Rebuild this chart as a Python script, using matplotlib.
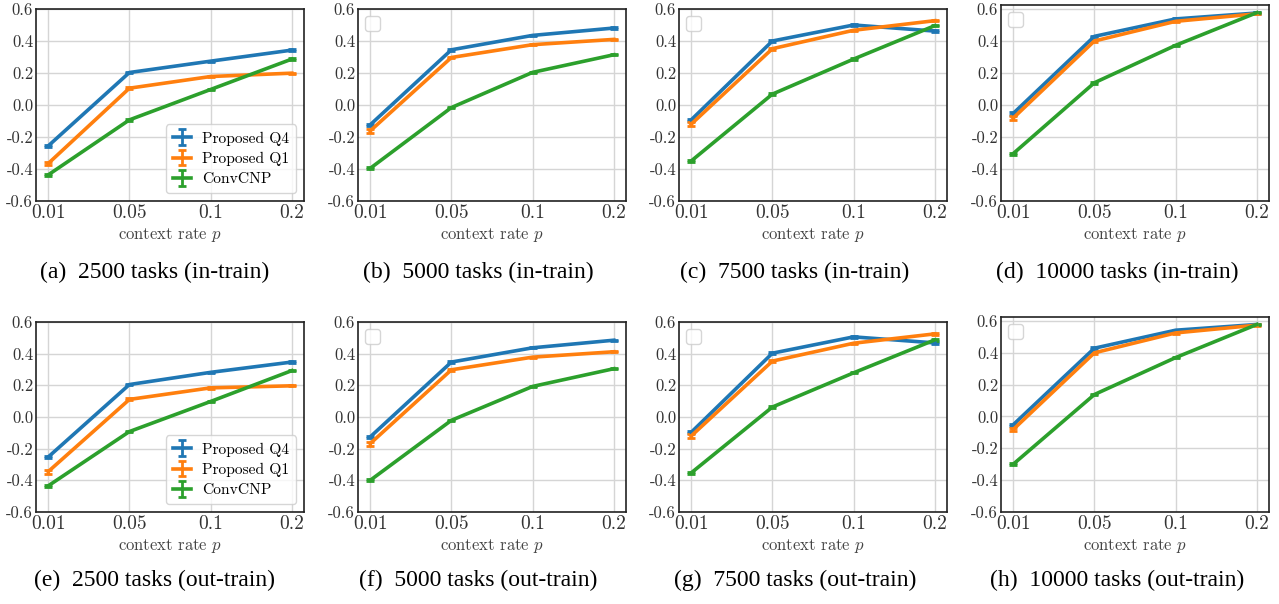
import matplotlib
matplotlib.use('Agg')
import matplotlib.pyplot as plt
from matplotlib.legend import Legend

plt.rcParams['font.family'] = 'cmr10'
plt.rcParams['mathtext.fontset'] = 'cm'
plt.rcParams['axes.unicode_minus'] = False
plt.rcParams['axes.formatter.use_mathtext'] = True

rates = ['0.01', '0.05', '0.1', '0.2']
yticks = [-0.6, -0.4, -0.2, 0.0, 0.2, 0.4, 0.6]
ytick_labels = ['-0.6', '-0.4', '-0.2', '0.0', '0.2', '0.4', '0.6']

# one list per panel, in-train row then out-train row
q4_in = [[-0.256, 0.203, 0.274, 0.343],
         [-0.124, 0.345, 0.435, 0.481],
         [-0.093, 0.400, 0.500, 0.462],
         [-0.053, 0.429, 0.538, 0.575]]
q1_in = [[-0.366, 0.105, 0.178, 0.199],
         [-0.162, 0.297, 0.377, 0.410],
         [-0.120, 0.352, 0.467, 0.527],
         [-0.082, 0.400, 0.523, 0.570]]
conv_in = [[-0.437, -0.093, 0.097, 0.287],
           [-0.396, -0.016, 0.204, 0.314],
           [-0.350, 0.068, 0.287, 0.496],
           [-0.304, 0.139, 0.373, 0.577]]

q4_out = [[-0.253, 0.205, 0.282, 0.347],
          [-0.126, 0.347, 0.437, 0.485],
          [-0.097, 0.403, 0.506, 0.468],
          [-0.052, 0.429, 0.542, 0.578]]
q1_out = [[-0.345, 0.111, 0.184, 0.197],
          [-0.168, 0.298, 0.378, 0.412],
          [-0.120, 0.353, 0.466, 0.525],
          [-0.082, 0.400, 0.525, 0.574]]
conv_out = [[-0.435, -0.092, 0.098, 0.293],
            [-0.400, -0.021, 0.193, 0.305],
            [-0.353, 0.063, 0.279, 0.487],
            [-0.300, 0.138, 0.370, 0.578]]

# tiny standard errors
err_q4 = [0.007, 0.005, 0.004, 0.004]
err_q1 = [0.012, 0.006, 0.004, 0.004]
err_conv = [0.006, 0.005, 0.004, 0.004]

task_counts = ['2500', '5000', '7500', '10000']
letters_in = ['a', 'b', 'c', 'd']
letters_out = ['e', 'f', 'g', 'h']

names = ['Proposed Q4', 'Proposed Q1', 'ConvCNP']
colors = ['#1f77b4', '#ff7f0e', '#2ca02c']

W, H = 1279, 604
fig = plt.figure(figsize=(W / 100, H / 100), dpi=100)

lefts = [36, 358, 679, 1001]
caption_x = [155, 478, 795, 1117]


def make_panel(left, top, bottom, q4, q1, conv, ymax, with_legend):
    ax = fig.add_axes([left / W, (H - bottom) / H, 268 / W, (bottom - top) / H])
    x = list(range(len(rates)))
    for vals, errs, name, c in zip([q4, q1, conv], [err_q4, err_q1, err_conv], names, colors):
        ax.errorbar(x, vals, yerr=errs, color=c, lw=2.6, capsize=3, capthick=2,
                    elinewidth=2, label=name)
    ax.set_xticks(x)
    ax.set_xticklabels(rates, fontsize=14, color='#333333')
    ax.set_yticks(yticks)
    ax.set_yticklabels(ytick_labels, fontsize=12, color='#333333')
    ax.set_ylim(-0.6, ymax)
    ax.set_xlim(-0.15, 3.15)
    ax.tick_params(length=0, pad=2)
    ax.grid(True, color='#d5d5d5', lw=1.0)
    ax.set_axisbelow(True)
    for s in ax.spines.values():
        s.set_color('#222222')
        s.set_linewidth(1.2)
    ax.set_xlabel('context rate $p$', fontsize=12, color='#444444', labelpad=3)
    if with_legend:
        leg = ax.legend(loc='lower right', fontsize=11.2, frameon=True, borderpad=0.45,
                        handlelength=1.2, handletextpad=0.7, labelspacing=0.4,
                        fancybox=True)
    else:
        # the original panels carry an empty legend box
        leg = Legend(ax, [], [], loc='upper left', frameon=True, fancybox=True,
                     borderpad=0.55)
        ax.add_artist(leg)
    leg.get_frame().set_edgecolor('#cccccc')
    return ax


for i in range(4):
    top_in = 5 if i == 3 else 9
    ymax = 0.625 if i == 3 else 0.6
    make_panel(lefts[i], top_in, 201, q4_in[i], q1_in[i], conv_in[i], ymax, i == 0)
    fig.text(caption_x[i] / W, (H - 272) / H,
             '(%s)  %s tasks (in-train)' % (letters_in[i], task_counts[i]),
             ha='center', va='center', fontsize=17, family='Liberation Serif')

    top_out = 317 if i == 3 else 322
    make_panel(lefts[i], top_out, 512, q4_out[i], q1_out[i], conv_out[i], ymax, i == 0)
    fig.text(caption_x[i] / W, (H - 580) / H,
             '(%s)  %s tasks (out-train)' % (letters_out[i], task_counts[i]),
             ha='center', va='center', fontsize=17, family='Liberation Serif')

fig.savefig('out.png', dpi=100)
